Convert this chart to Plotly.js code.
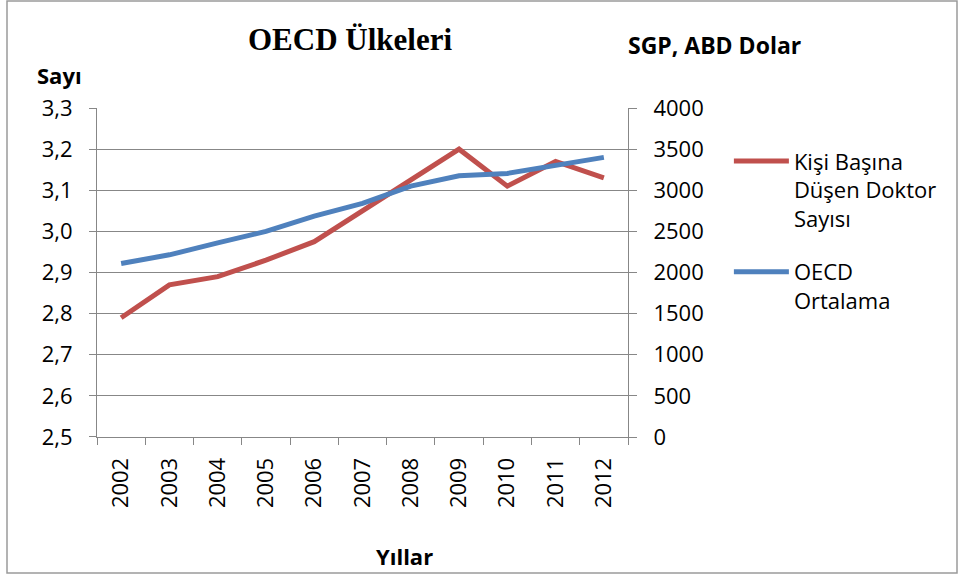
<!DOCTYPE html>
<html>
<head>
<meta charset="utf-8">
<script src="https://cdn.plot.ly/plotly-3.0.1.min.js"></script>
<style>
html,body{margin:0;padding:0;background:#fff;}
#chart{width:959px;height:580px;}
</style>
</head>
<body>
<div id="chart"></div>
<script>
var years = ['2002','2003','2004','2005','2006','2007','2008','2009','2010','2011','2012'];
var doctorsPerCapita = [2.79, 2.87, 2.89, 2.93, 2.975, 3.05, 3.125, 3.20, 3.11, 3.17, 3.13];
var oecdAverage = [2110, 2215, 2360, 2500, 2685, 2840, 3050, 3175, 3205, 3300, 3400];
var seriesNames = ['Kişi Başına<br>Düşen Doktor<br>Sayısı', 'OECD<br>Ortalama'];

var FONT = '"Open Sans", "Liberation Sans", sans-serif';
var GRID = '#878787';

var traces = [
  {
    x: years, y: doctorsPerCapita, name: seriesNames[0], legendgroup: 'a',
    type: 'scatter', mode: 'lines', yaxis: 'y',
    line: {color: '#C0504D', width: 5}
  },
  {
    x: years, y: oecdAverage, name: seriesNames[1], legendgroup: 'b',
    type: 'scatter', mode: 'lines', yaxis: 'y2',
    line: {color: '#4F81BD', width: 5}
  }
];

var layout = {
  width: 959, height: 580,
  margin: {l: 97, r: 331, t: 108, b: 143},
  paper_bgcolor: '#fff', plot_bgcolor: '#fff',
  separators: ',.',
  font: {family: FONT, size: 22, color: '#000'},
  title: {
    text: 'OECD Ülkeleri',
    font: {family: '"Liberation Serif", "Times New Roman", serif', size: 31, color: '#000', weight: 'bold'},
    x: 350/959, xref: 'container', xanchor: 'center',
    y: 1 - 39/580, yref: 'container', yanchor: 'middle'
  },
  showlegend: true,
  legend: {
    x: 1.19, xanchor: 'left', y: 0.902, yanchor: 'top',
    font: {family: FONT, size: 22, color: '#000'},
    valign: 'top', itemwidth: 55, bgcolor: 'rgba(0,0,0,0)', borderwidth: 0,
    traceorder: 'grouped', tracegroupgap: 22
  },
  xaxis: {
    type: 'category', range: [-0.5, 10.5],
    showline: true, linecolor: GRID, linewidth: 1,
    ticks: 'outside', ticklen: 7, tickcolor: GRID, tickwidth: 1,
    tickson: 'boundaries', tickangle: -90, ticklabelstandoff: 11,
    tickfont: {family: FONT, size: 22, color: '#000'},
    showgrid: false, zeroline: false, fixedrange: true
  },
  yaxis: {
    range: [2.4999, 3.3001], tick0: 2.5, dtick: 0.1, tickformat: '.1f',
    showgrid: true, gridcolor: GRID, gridwidth: 1,
    showline: true, linecolor: GRID, linewidth: 1,
    ticks: 'outside', ticklen: 7, tickcolor: GRID,
    ticklabelstandoff: 12,
    tickfont: {family: FONT, size: 22, color: '#000'},
    zeroline: false, fixedrange: true
  },
  yaxis2: {
    overlaying: 'y', side: 'right',
    range: [0, 4000], tick0: 0, dtick: 500, tickformat: 'd',
    showgrid: false, showline: true, linecolor: GRID, linewidth: 1,
    ticks: 'outside', ticklen: 8, tickcolor: GRID,
    ticklabelstandoff: 12,
    tickfont: {family: FONT, size: 22, color: '#000'},
    zeroline: false, fixedrange: true
  },
  annotations: [
    {text: '<b>Sayı</b>', xref: 'paper', yref: 'paper', x: (59.5-97)/531, y: (437-75)/329,
     xanchor: 'center', yanchor: 'middle', showarrow: false, font: {family: FONT, size: 22, color: '#000'}},
    {text: '<b>SGP, ABD Dolar</b>', xref: 'paper', yref: 'paper', x: (714-97)/531, y: (437-45)/329,
     xanchor: 'center', yanchor: 'middle', showarrow: false, font: {family: FONT, size: 23, color: '#000'}},
    {text: '<b>Yıllar</b>', xref: 'paper', yref: 'paper', x: (404-97)/531, y: (437-556)/329,
     xanchor: 'center', yanchor: 'middle', showarrow: false, font: {family: FONT, size: 22, color: '#000'}}
  ],
  shapes: [
    {type: 'rect', xref: 'paper', yref: 'paper',
     x0: (7-97)/531, x1: (957-97)/531, y0: (437-573)/329, y1: (437-1)/329,
     line: {color: '#9a9a9a', width: 1.5}, fillcolor: 'rgba(0,0,0,0)', layer: 'below'}
  ]
};

Plotly.newPlot('chart', traces, layout, {displayModeBar: false, staticPlot: true});
</script>
</body>
</html>
